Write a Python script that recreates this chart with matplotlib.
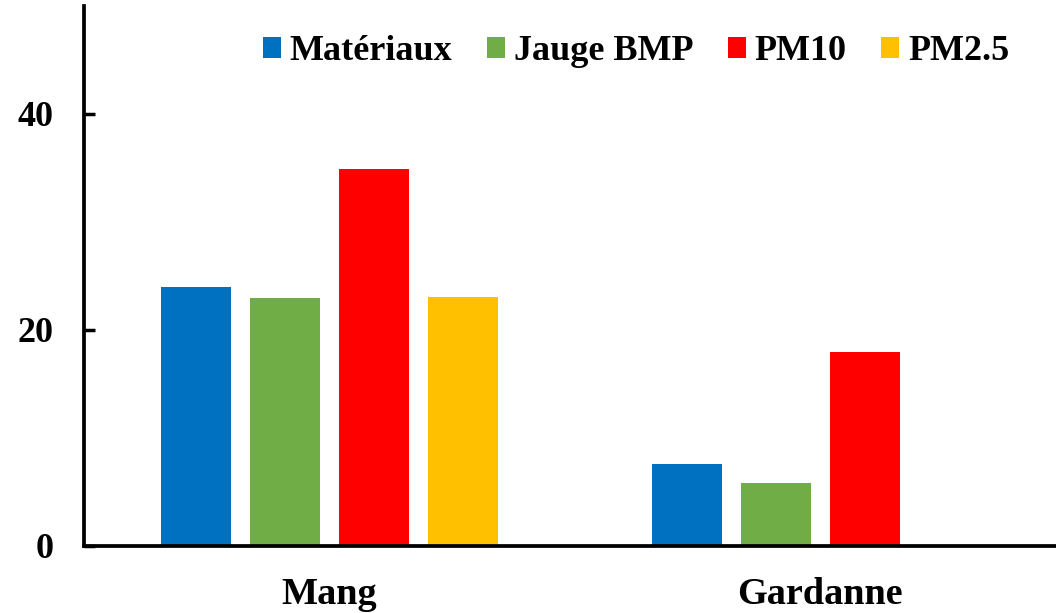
import numpy as np
import matplotlib.pyplot as plt

# Données
sites = ["Mang", "Gardanne"]
series = ["Matériaux", "Jauge BMP", "PM10", "PM2.5"]
materiaux = [24.0, 7.6]
jauge_bmp = [23.0, 5.8]
pm10 = [34.9, 18.0]
pm25 = [23.1, 0.0]
colors = ["#0070C0", "#70AD47", "#FF0000", "#FFC000"]

plt.rcParams["font.family"] = ["Liberation Serif", "DejaVu Serif"]
plt.rcParams["font.weight"] = "bold"

fig = plt.figure(figsize=(10.56, 6.13), dpi=100)
ax = fig.add_axes([84 / 1056, 1 - 546 / 613, 1 - 84 / 1056, (546 - 6) / 613])

x = np.arange(len(sites))
width = 0.143
step = 0.181
for i, (vals, name) in enumerate(zip([materiaux, jauge_bmp, pm10, pm25], series)):
    ax.bar(x + (i - 1.5) * step, vals, width, color=colors[i], label=name)

ax.set_xlim(-0.5, 1.48)
ax.set_ylim(0, 50)
ax.set_yticks([0, 20, 40])
ax.set_xticks(x)
ax.set_xticklabels(sites, fontsize=27.5, fontweight="bold")
ax.tick_params(axis="y", direction="in", length=8, width=2.5, labelsize=26, pad=22)
ax.tick_params(axis="x", length=0, pad=22)
for lbl in ax.get_yticklabels():
    lbl.set_fontweight("bold")

for side in ["top", "right"]:
    ax.spines[side].set_visible(False)
for side in ["left", "bottom"]:
    ax.spines[side].set_linewidth(2.7)

ax.legend(loc="upper right", bbox_to_anchor=(0.978, 0.993), ncol=4, frameon=False,
          prop={"size": 26, "weight": "bold"}, handlelength=0.5, handleheight=0.5,
          handletextpad=0.25, columnspacing=0.95, borderaxespad=0.3)

fig.savefig("out.png", dpi=100)
